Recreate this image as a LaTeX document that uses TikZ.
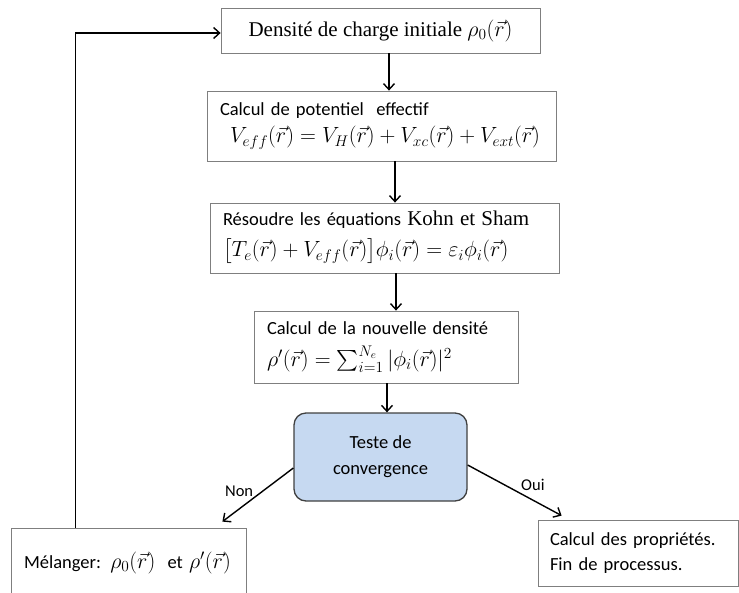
\RequirePackage{fix-cm}
\documentclass[tikz,border=0pt]{standalone}
\usepackage{amsmath}
\usepackage{fontspec}
\setmainfont{Liberation Serif}
\newfontfamily\calibri{Carlito}
\usetikzlibrary{arrows.meta}
\usetikzlibrary{positioning}
\definecolor{convblue}{HTML}{C6D9F1}
\definecolor{boxgray}{HTML}{7F7F7F}
\newcommand{\bigmath}[1]{{\fontsize{22}{26}\selectfont$#1$}}

\begin{document}
\begin{tikzpicture}[x=1pt,y=-1pt,
    font=\calibri\fontsize{18.5}{24}\selectfont,
    box/.style={draw=boxgray, line width=0.8pt, fill=white, inner xsep=13pt, inner ysep=0pt, align=left},
    flow/.style={-{Straight Barb[length=6pt,width=11pt]}, line width=1.4pt},
    answer/.style={font=\calibri\fontsize{16.5}{20}\selectfont}]
    \useasboundingbox (0,0) rectangle (739,592);
    \clip (0,0) rectangle (739,592);
    % boxes
    \node[box, minimum width=319pt, minimum height=45pt, align=center,
        font=\rmfamily\fontsize{21}{26}\selectfont] (init) at (380.5,30.5)
        {Densité de charge initiale \bigmath{\rho_0(\vec{r})}};
    \node[box, minimum width=349pt, minimum height=70pt, text width=323pt] (veff) at (381.5,126)
        {Calcul de potentiel\ \ effectif\\[3pt]
         \hspace*{10pt}\bigmath{V_{eff}(\vec{r})=V_H(\vec{r})+V_{xc}(\vec{r})+V_{ext}(\vec{r})}};
    \node[box, minimum width=349pt, minimum height=70pt, text width=323pt] (ks) at (384.5,238)
        {Résoudre les équations\ {\rmfamily\fontsize{21}{24}\selectfont Kohn et Sham}\\[7pt]
         \bigmath{\bigl[T_e(\vec{r})+V_{eff}(\vec{r})\bigr]\phi_i(\vec{r})=\varepsilon_i\phi_i(\vec{r})}};
    \node[box, minimum width=264pt, minimum height=72pt, text width=238pt] (dens) at (386,347)
        {Calcul de la nouvelle densité\\[8pt]
         \bigmath{\rho'(\vec{r})=\mathop{\textstyle\sum}\nolimits_{i=1}^{N_e}|\phi_i(\vec{r})|^2}};
    \node[draw=black!75, line width=1.3pt, fill=convblue, rounded corners=12pt,
        minimum width=173pt, minimum height=88pt, align=center,
        font=\calibri\fontsize{18.5}{26}\selectfont] (conv) at (380.5,457)
        {Teste de\\convergence};
    \node[box, minimum width=235pt, minimum height=70pt, text width=209pt] (mel) at (128.5,563)
        {Mélanger: \bigmath{\rho_0(\vec{r})}\ \ et \bigmath{\rho'(\vec{r})}};
    \node[box, minimum width=200pt, minimum height=66pt, text width=186pt, inner xsep=7pt,
        font=\calibri\fontsize{18.5}{25}\selectfont] (prop) at (638,553)
        {\hspace*{5pt}Calcul des propriétés.\\\hspace*{5pt}Fin de processus.};
    % connectors
    \draw[flow] ([xshift=8.5pt]init.south) -- ([xshift=8.5pt]init.south |- veff.north);
    \draw[flow] ([xshift=13.5pt]veff.south) -- ([xshift=13.5pt]veff.south |- ks.north);
    \draw[flow] ([xshift=11.5pt]ks.south) -- ([xshift=11.5pt]ks.south |- dens.north);
    \draw[flow] ([xshift=1pt]dens.south) -- ([xshift=1pt]dens.south |- conv.north);
    \draw[flow] ([yshift=-11pt]conv.west) -- node[pos=0.55, above left=-4pt, answer] {Non}
        ([xshift=-24pt,yshift=6pt]mel.north east);
    \draw[flow] ([yshift=-8pt]conv.east) -- node[pos=0.55, above right=-3pt, answer] {Oui}
        ([xshift=24pt,yshift=4pt]prop.north west);
    \draw[flow] ([xshift=65pt]mel.north west) |- ([yshift=-2.5pt]init.west);
\end{tikzpicture}
\end{document}
